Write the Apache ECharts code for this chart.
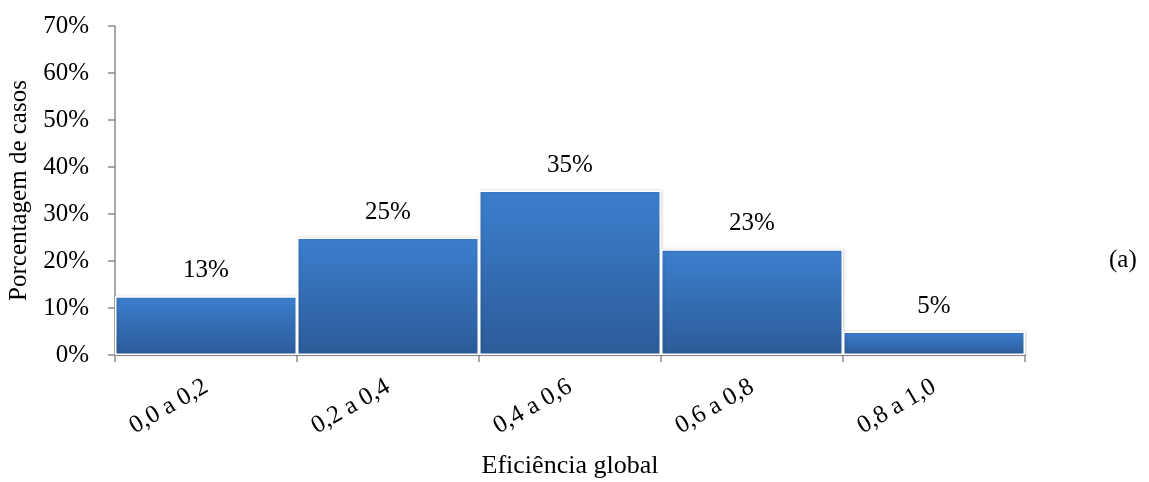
<!DOCTYPE html>
<html>
<head>
<meta charset="utf-8">
<script src="https://cdn.jsdelivr.net/npm/echarts@6/dist/echarts.min.js"></script>
<style>
  html, body { margin: 0; padding: 0; background: #fff; }
  #chart { width: 1149px; height: 482px; }
</style>
</head>
<body>
<div id="chart"></div>
<script>
// Efficiency classes and share of cases in each class (%)
const categories = ['0,0 a 0,2', '0,2 a 0,4', '0,4 a 0,6', '0,6 a 0,8', '0,8 a 1,0'];
const shares = [12.5, 25, 35, 22.5, 5];
const yTicks = [0, 10, 20, 30, 40, 50, 60, 70];

const serif = '"Liberation Serif", "Times New Roman", serif';
const axisGrey = '#8c8c8c';

const chart = echarts.init(document.getElementById('chart'), null, { renderer: 'canvas' });

chart.setOption({
  backgroundColor: '#ffffff',
  animation: false,
  grid: { left: 115, right: 124, top: 26, bottom: 127, containLabel: false, outerBoundsMode: 'none' },
  xAxis: {
    type: 'category',
    data: categories,
    name: 'Eficiência global',
    nameLocation: 'middle',
    nameGap: 98,
    nameTextStyle: { fontFamily: serif, fontSize: 26, color: '#000' },
    axisLine: { show: true, lineStyle: { color: axisGrey, width: 2 } },
    axisTick: { show: true, length: 7, lineStyle: { color: axisGrey, width: 1.5 } },
    axisLabel: {
      rotate: 30,
      margin: 30,
      fontFamily: serif,
      fontSize: 25,
      color: '#000'
    },
    splitLine: { show: false }
  },
  yAxis: {
    type: 'value',
    min: yTicks[0],
    max: yTicks[yTicks.length - 1],
    interval: 10,
    name: 'Porcentagem de casos',
    nameLocation: 'middle',
    nameGap: 80,
    nameTextStyle: { fontFamily: serif, fontSize: 25, color: '#000' },
    axisLine: { show: true, lineStyle: { color: axisGrey, width: 1.5 } },
    axisTick: { show: true, length: 7, lineStyle: { color: axisGrey, width: 1.5 } },
    axisLabel: {
      margin: 26,
      fontFamily: serif,
      fontSize: 25,
      color: '#000',
      formatter: v => v + '%'
    },
    splitLine: { show: false }
  },
  series: [{
    type: 'bar',
    data: shares,
    barCategoryGap: '0%',
    itemStyle: {
      color: new echarts.graphic.LinearGradient(0, 0, 0, 1, [
        { offset: 0, color: '#3c7fce' },
        { offset: 1, color: '#2c5b98' }
      ]),
      borderColor: '#ffffff',
      borderWidth: 1.5,
      shadowColor: 'rgba(0,0,0,0.18)',
      shadowBlur: 3,
      shadowOffsetX: 1,
      shadowOffsetY: 0
    },
    label: {
      show: true,
      position: 'top',
      distance: 13,
      fontFamily: serif,
      fontSize: 25,
      color: '#000',
      formatter: p => Math.round(p.value) + '%'
    }
  }],
  graphic: [{
    type: 'text',
    left: 1109,
    top: 248,
    style: { text: '(a)', font: '25px ' + serif, fill: '#000' }
  }]
});
</script>
</body>
</html>
